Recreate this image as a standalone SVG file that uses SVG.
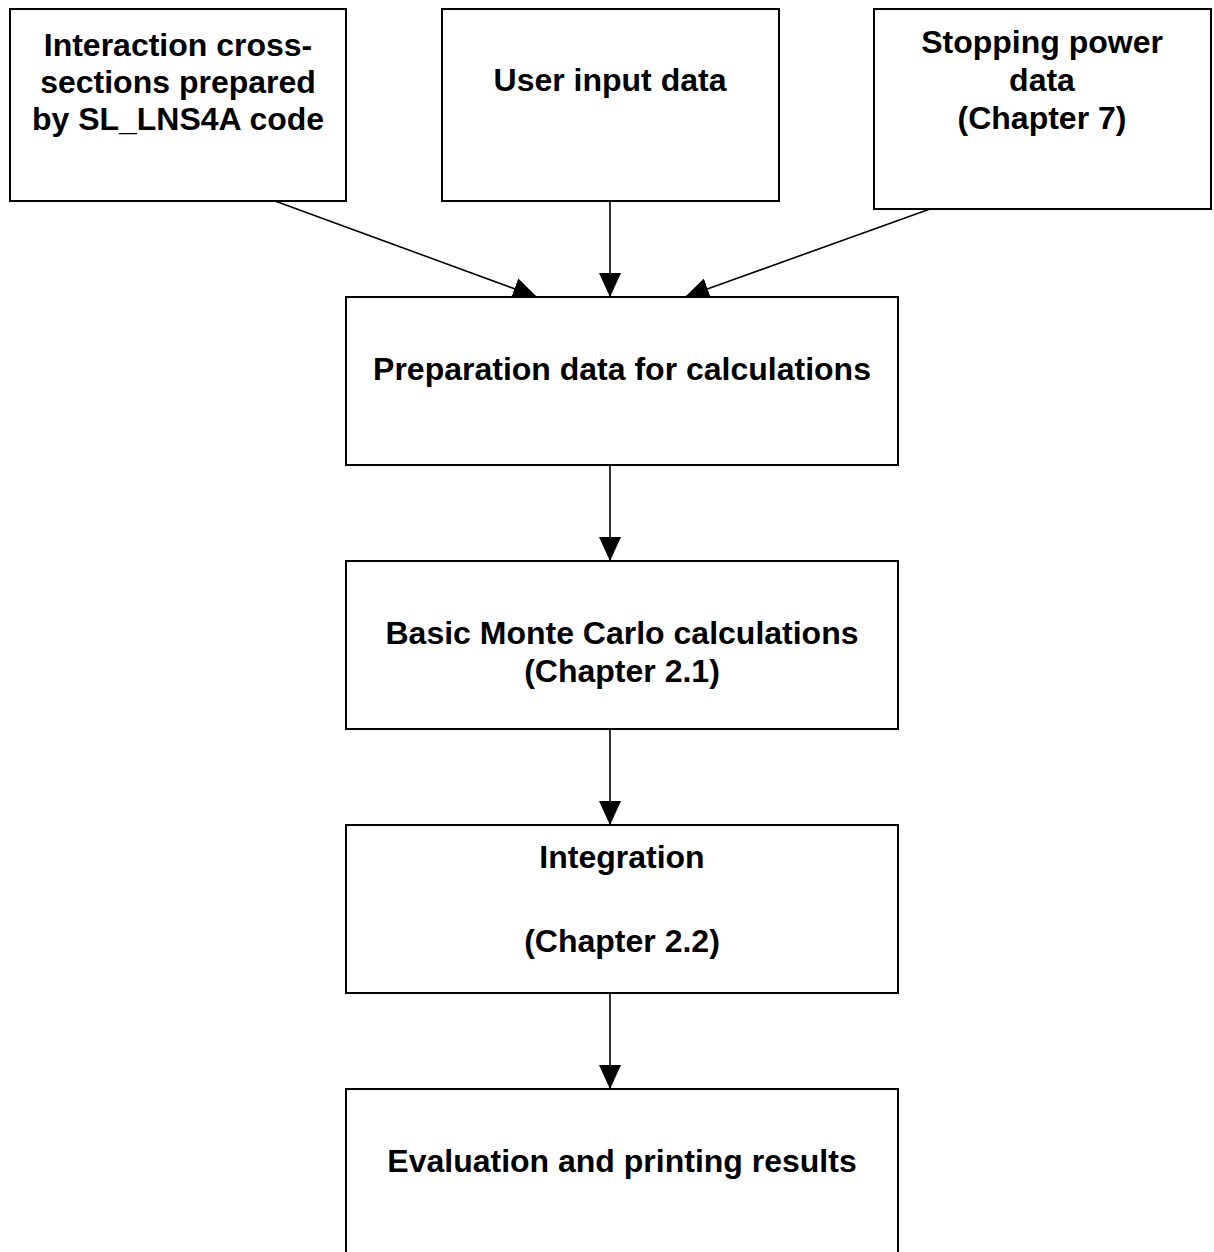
<svg xmlns="http://www.w3.org/2000/svg" width="1214" height="1252" viewBox="0 0 1214 1252">
<style>
.box{fill:#fff;stroke:#000;stroke-width:2}
.t{font-family:"Liberation Sans",Arial,sans-serif;font-weight:bold;font-size:32px;text-anchor:middle;fill:#000}
.c{stroke:#000;stroke-width:1.6;fill:none}
</style>
<defs>
<marker id="ah" markerUnits="userSpaceOnUse" markerWidth="24" markerHeight="22" refX="24" refY="11" orient="auto" viewBox="0 0 24 22">
<path d="M0,0 L24,11 L0,22 Z" fill="#000"/>
</marker>
</defs>
<rect width="1214" height="1252" fill="#fff"/>
<g id="connectors">
<line class="c" x1="275" y1="201" x2="537" y2="297" marker-end="url(#ah)"/>
<line class="c" x1="610" y1="201" x2="610" y2="297" marker-end="url(#ah)"/>
<line class="c" x1="930" y1="209" x2="685" y2="297" marker-end="url(#ah)"/>
<line class="c" x1="610" y1="465" x2="610" y2="561" marker-end="url(#ah)"/>
<line class="c" x1="610" y1="729" x2="610" y2="825" marker-end="url(#ah)"/>
<line class="c" x1="610" y1="993" x2="610" y2="1089" marker-end="url(#ah)"/>
</g>
<g id="n1">
<rect class="box" x="10" y="9" width="336" height="192"/>
<text class="t" x="178" y="56">Interaction cross-</text>
<text class="t" x="178" y="93">sections prepared</text>
<text class="t" x="178" y="130">by SL_LNS4A code</text>
</g>
<g id="n2">
<rect class="box" x="442" y="9" width="337" height="192"/>
<text class="t" x="610" y="91">User input data</text>
</g>
<g id="n3">
<rect class="box" x="874" y="9" width="337" height="200"/>
<text class="t" x="1042" y="53">Stopping power</text>
<text class="t" x="1042" y="91">data</text>
<text class="t" x="1042" y="129">(Chapter 7)</text>
</g>
<g id="n4">
<rect class="box" x="346" y="297" width="552" height="168"/>
<text class="t" x="622" y="380">Preparation data for calculations</text>
</g>
<g id="n5">
<rect class="box" x="346" y="561" width="552" height="168"/>
<text class="t" x="622" y="644">Basic Monte Carlo calculations</text>
<text class="t" x="622" y="682">(Chapter 2.1)</text>
</g>
<g id="n6">
<rect class="box" x="346" y="825" width="552" height="168"/>
<text class="t" x="622" y="868">Integration</text>
<text class="t" x="622" y="952">(Chapter 2.2)</text>
</g>
<g id="n7">
<rect class="box" x="346" y="1089" width="552" height="200"/>
<text class="t" x="622" y="1172">Evaluation and printing results</text>
</g>
</svg>
